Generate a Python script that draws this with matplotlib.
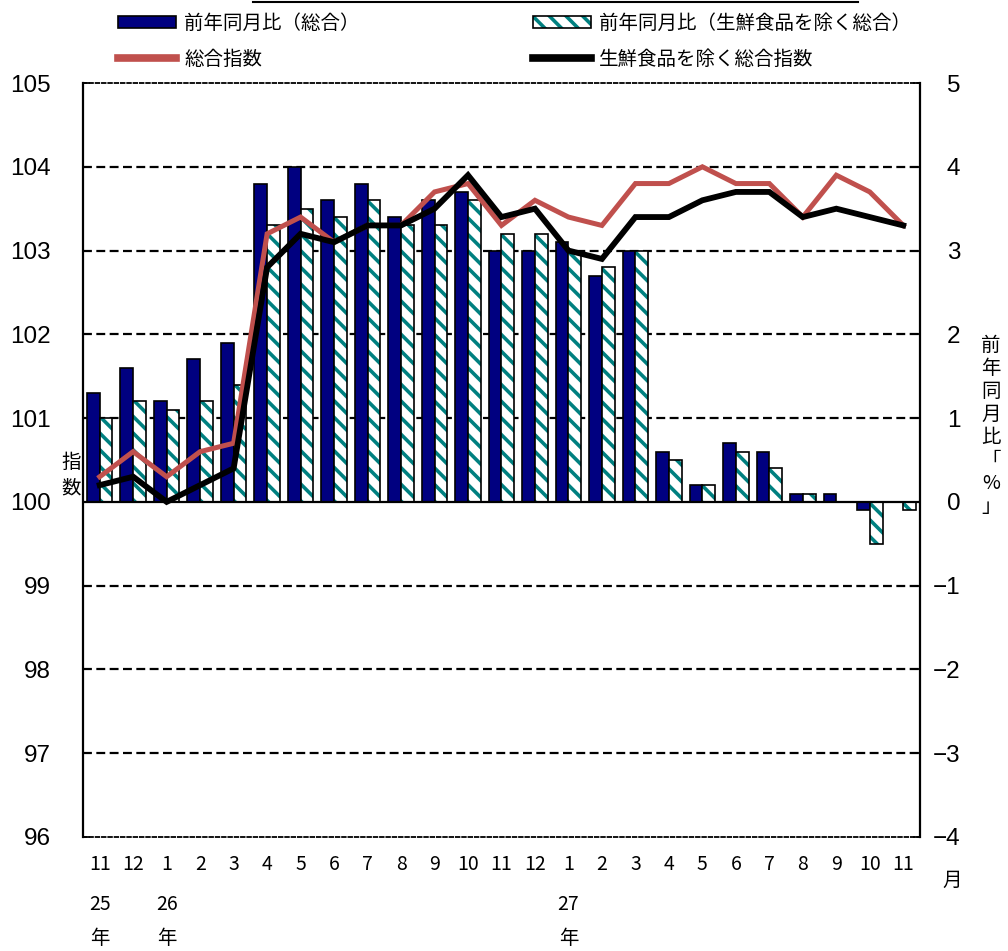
import numpy as np
import matplotlib
matplotlib.use('Agg')
import matplotlib.pyplot as plt
import matplotlib.transforms as mtransforms
from matplotlib.patches import Patch
from matplotlib.lines import Line2D

plt.rcParams['font.family'] = ['Noto Sans CJK JP', 'DejaVu Sans']
plt.rcParams['hatch.linewidth'] = 2.6

# data (Nov 2013 - Nov 2015)
months = ['11', '12', '1', '2', '3', '4', '5', '6', '7', '8', '9', '10', '11',
          '12', '1', '2', '3', '4', '5', '6', '7', '8', '9', '10', '11']
years = ['25', '', '26', '', '', '', '', '', '', '', '', '', '',
         '', '27', '', '', '', '', '', '', '', '', '', '']
yoy_total = [1.3, 1.6, 1.2, 1.7, 1.9, 3.8, 4.0, 3.6, 3.8, 3.4, 3.6, 3.7, 3.0,
             3.0, 3.1, 2.7, 3.0, 0.6, 0.2, 0.7, 0.6, 0.1, 0.1, -0.1, 0.0]
yoy_core = [1.0, 1.2, 1.1, 1.2, 1.4, 3.3, 3.5, 3.4, 3.6, 3.3, 3.3, 3.6, 3.2,
            3.2, 3.0, 2.8, 3.0, 0.5, 0.2, 0.6, 0.4, 0.1, 0.0, -0.5, -0.1]
idx_total = [100.3, 100.6, 100.3, 100.6, 100.7, 103.2, 103.4, 103.1, 103.3, 103.3,
             103.7, 103.8, 103.3, 103.6, 103.4, 103.3, 103.8, 103.8, 104.0, 103.8,
             103.8, 103.4, 103.9, 103.7, 103.3]
idx_core = [100.2, 100.3, 100.0, 100.2, 100.4, 102.8, 103.2, 103.1, 103.3, 103.3,
            103.5, 103.9, 103.4, 103.5, 103.0, 102.9, 103.4, 103.4, 103.6, 103.7,
            103.7, 103.4, 103.5, 103.4, 103.3]

navy = '#000080'
teal = '#008080'
red = '#C0504D'

x = np.arange(len(months))
w = 0.38

fig = plt.figure(figsize=(10.08, 9.51), dpi=100)
ax = fig.add_axes([0.0823, 0.1199, 0.8304, 0.7928])

# bars (yoy, drawn from the 100 baseline so they share the scale)
ax.bar(x - w, yoy_total, width=w, bottom=100, align='edge', color=navy,
       edgecolor='black', linewidth=1.2, zorder=3)
ax.bar(x, yoy_core, width=w, bottom=100, align='edge', color='white',
       edgecolor=teal, hatch='\\\\', linewidth=0, zorder=3)
ax.bar(x, yoy_core, width=w, bottom=100, align='edge', fill=False,
       edgecolor='black', linewidth=1.2, zorder=3)

# index lines
ax.plot(x, idx_total, color=red, linewidth=3.6, zorder=4, solid_joinstyle='miter')
ax.plot(x, idx_core, color='black', linewidth=4.2, zorder=5, solid_joinstyle='miter')

ax.set_xlim(-0.5, len(months) - 0.5)
ax.set_ylim(96, 105)
ax.set_yticks(range(96, 106))
for v in range(97, 105):
    if v != 100:
        ax.axhline(v, color='black', linestyle=(0, (4, 2)), linewidth=1.6, zorder=1)
ax.axhline(100, color='black', linewidth=1.6, zorder=4)

for s in ['top', 'bottom']:
    ax.spines[s].set_linestyle((0, (2, 1.5)))
    ax.spines[s].set_linewidth(1.3)
for s in ['left', 'right']:
    ax.spines[s].set_linewidth(1.6)

ax.tick_params(axis='y', direction='in', length=5, width=1.2, pad=23,
               labelsize=17.5)
for t in ax.get_yticklabels():
    t.set_family('Liberation Sans')

ax.set_xticks(x)
ax.set_xticklabels(months, fontsize=14)
ax.tick_params(axis='x', length=0, pad=12)

# year labels under the month labels
trans = mtransforms.blended_transform_factory(ax.transData, ax.transAxes)
for i, yr in enumerate(years):
    if yr:
        ax.text(x[i], -0.090, yr, transform=trans, ha='center', va='center', fontsize=14)
        ax.text(x[i], -0.134, '年', transform=trans, ha='center', va='center', fontsize=14)

ax2 = ax.twinx()
ax2.set_ylim(-4, 5)
ax2.set_yticks(range(-4, 6))
ax2.tick_params(axis='y', direction='in', length=5, width=1.2, pad=29,
                labelsize=17.5)
for t in ax2.get_yticklabels():
    t.set_family('Liberation Sans')
    t.set_horizontalalignment('right')
for s in ax2.spines.values():
    s.set_visible(False)

ax.text(-0.002, 0.48, '指\n数', transform=ax.transAxes, ha='right', va='center',
        fontsize=14, linespacing=1.25)
ax.text(1.085, 0.545, '前\n年\n同\n月\n比\n「\n%\n」', transform=ax.transAxes,
        ha='center', va='center', fontsize=14, linespacing=1.12)
ax.text(1.039, -0.057, '月', transform=ax.transAxes, ha='center', va='center',
        fontsize=14)

# legend
h_total = Patch(facecolor=navy, edgecolor='black', linewidth=1.2)
h_core = (Patch(facecolor='white', edgecolor=teal, hatch='\\\\', linewidth=0),
          Patch(fill=False, edgecolor='black', linewidth=1.2))
h_idx = Line2D([], [], color=red, linewidth=5.5)
h_idx_core = Line2D([], [], color='black', linewidth=5.5)
fig.legend([h_total, h_idx, h_core, h_idx_core],
           ['前年同月比（総合）', '総合指数', '前年同月比（生鮮食品を除く総合）', '生鮮食品を除く総合指数'],
           ncol=2, loc='upper left', bbox_to_anchor=(118 / 1008, 1 - 13 / 951),
           frameon=False, fontsize=14, handlelength=3.0, handleheight=0.6,
           handletextpad=0.4, labelspacing=0.75, columnspacing=8.9,
           borderpad=0, borderaxespad=0)

fig.add_artist(Line2D([253 / 1008, 858 / 1008], [1 - 1.5 / 951] * 2,
                      color='black', linewidth=1.5))

fig.savefig('out.png', dpi=100)
